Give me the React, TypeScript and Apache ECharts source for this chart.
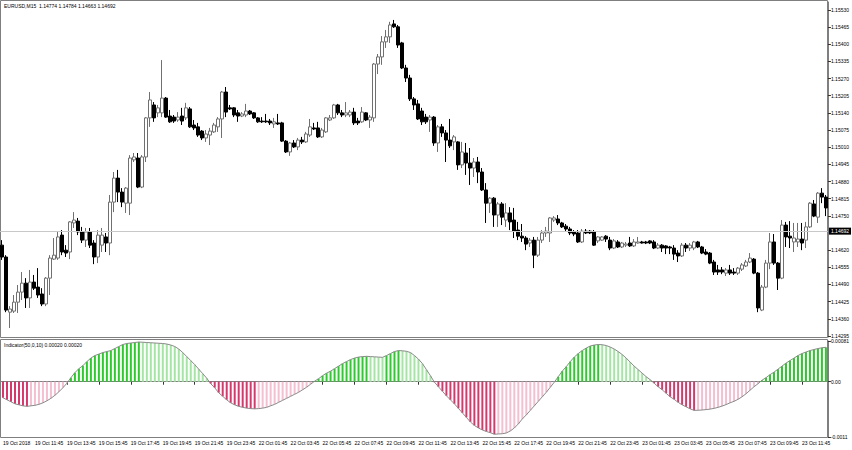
import React, { useEffect, useRef } from "react";
import * as echarts from "echarts";

const mainTitle = "EURUSD,M15  1.14774 1.14784 1.14663 1.14692";
const indicatorTitle = "Indicator(50,0,10) 0.00020 0.00020";
const currentPrice = 1.14692;

const tickLabels = [
  "19 Oct 2018", "19 Oct 11:45", "19 Oct 13:45", "19 Oct 15:45", "19 Oct 17:45", "19 Oct 19:45",
  "19 Oct 21:45", "19 Oct 23:45", "22 Oct 01:45", "22 Oct 03:45", "22 Oct 05:45", "22 Oct 07:45",
  "22 Oct 09:45", "22 Oct 11:45", "22 Oct 13:45", "22 Oct 15:45", "22 Oct 17:45", "22 Oct 19:45",
  "22 Oct 21:45", "22 Oct 23:45", "23 Oct 01:45", "23 Oct 03:45", "23 Oct 05:45", "23 Oct 07:45",
  "23 Oct 09:45", "23 Oct 11:45",
];

const priceTicks = [
  1.1553, 1.15465, 1.154, 1.15335, 1.1527, 1.15205, 1.1514, 1.15075, 1.1501, 1.14945,
  1.1488, 1.14815, 1.1475, 1.1462, 1.14555, 1.1449, 1.14425, 1.1436, 1.14295,
];

const indTickValues = [0.00081, 0, -0.0011];
const indTickLabels = ["0.00081", "0.00", "-0.0011"];

const openP = [
  1.14639, 1.14594, 1.14385, 1.14389, 1.14423, 1.14461, 1.14495, 1.14439, 1.14499, 1.1448,
  1.14454, 1.14416, 1.14514, 1.14586, 1.1459, 1.14677, 1.1462, 1.14613, 1.14723, 1.1473,
  1.14689, 1.14658, 1.14689, 1.14647, 1.14594, 1.14639, 1.1467, 1.14647, 1.14802, 1.14893,
  1.1484, 1.14798, 1.14798, 1.14962, 1.14969, 1.14859, 1.14973, 1.15121, 1.1517, 1.1514,
  1.1514, 1.15196, 1.15128, 1.15124, 1.15113, 1.15128, 1.15121, 1.15155, 1.15094, 1.15087,
  1.15071, 1.15045, 1.15056, 1.15068, 1.15087, 1.15117, 1.15219, 1.15159, 1.15159, 1.1514,
  1.15128, 1.15132, 1.15147, 1.1514, 1.15121, 1.15109, 1.15109, 1.15109, 1.15098, 1.15102,
  1.15102, 1.15033, 1.14992, 1.15026, 1.15011, 1.15037, 1.1503, 1.15056, 1.15083, 1.15083,
  1.15049, 1.15068, 1.15113, 1.15121, 1.1517, 1.1514, 1.15132, 1.15132, 1.15143, 1.15109,
  1.15106, 1.1514, 1.15113, 1.15121, 1.15325, 1.15352, 1.15409, 1.15428, 1.15477, 1.15466,
  1.15405, 1.1531, 1.15272, 1.15193, 1.15174, 1.15147, 1.15124, 1.15113, 1.15124, 1.15026,
  1.15087, 1.15064, 1.15037, 1.1503, 1.1503, 1.14943, 1.14988, 1.1495, 1.14931, 1.14954,
  1.14916, 1.14848, 1.14798, 1.14817, 1.14753, 1.14795, 1.14734, 1.14761, 1.14734, 1.14696,
  1.14673, 1.14666, 1.14647, 1.14658, 1.14601, 1.14658, 1.14685, 1.14685, 1.14734, 1.14738,
  1.14723, 1.14711, 1.147, 1.14689, 1.14685, 1.14651, 1.14692, 1.14692, 1.14689, 1.14655,
  1.14658, 1.14673, 1.14658, 1.14628, 1.14651, 1.14632, 1.14639, 1.14647, 1.14636, 1.14647,
  1.14651, 1.14651, 1.14655, 1.14651, 1.14628, 1.14639, 1.14636, 1.14632, 1.14628, 1.14609,
  1.14598, 1.14639, 1.14628, 1.14628, 1.14651, 1.14632, 1.14613, 1.14609, 1.14575, 1.14545,
  1.14545, 1.14533, 1.14545, 1.14537, 1.14533, 1.14548, 1.1456, 1.14575, 1.14586, 1.14533,
  1.14393, 1.1448, 1.14571, 1.14651, 1.14571, 1.14514, 1.14715, 1.14673, 1.14651, 1.14651,
  1.14662, 1.14658, 1.14708, 1.14795, 1.14745, 1.14836, 1.14821,
];

const closeP = [
  1.14594, 1.14393, 1.14397, 1.14423, 1.14461, 1.14495, 1.14439, 1.14499, 1.14476, 1.1445,
  1.14416, 1.14514, 1.1459, 1.14601, 1.1467, 1.14613, 1.14609, 1.14727, 1.14734, 1.14689,
  1.14658, 1.14689, 1.14639, 1.14594, 1.14677, 1.14677, 1.14647, 1.14802, 1.14893, 1.1484,
  1.14802, 1.14855, 1.14969, 1.14973, 1.14859, 1.14973, 1.15121, 1.15189, 1.15121, 1.15159,
  1.15196, 1.15124, 1.15106, 1.15109, 1.15124, 1.15109, 1.15159, 1.15087, 1.15083, 1.15056,
  1.15045, 1.1506, 1.15071, 1.15094, 1.15117, 1.15219, 1.15143, 1.15155, 1.15132, 1.15128,
  1.15136, 1.15147, 1.15136, 1.15121, 1.15106, 1.15106, 1.15106, 1.15102, 1.15106, 1.15098,
  1.15033, 1.14992, 1.15026, 1.15011, 1.15037, 1.1503, 1.1506, 1.15087, 1.15079, 1.15049,
  1.15075, 1.15121, 1.15121, 1.1517, 1.1514, 1.15132, 1.1514, 1.15143, 1.15102, 1.15102,
  1.15143, 1.15113, 1.15124, 1.15325, 1.15352, 1.15409, 1.15428, 1.15473, 1.15466, 1.15397,
  1.1531, 1.15272, 1.15193, 1.1517, 1.15117, 1.15106, 1.15106, 1.15124, 1.15026, 1.15087,
  1.15064, 1.15037, 1.15015, 1.15049, 1.14943, 1.14992, 1.1495, 1.14931, 1.14954, 1.14916,
  1.14848, 1.14798, 1.14817, 1.14753, 1.14795, 1.14745, 1.14761, 1.14727, 1.14692, 1.14673,
  1.14666, 1.14643, 1.14658, 1.14601, 1.14658, 1.14685, 1.14692, 1.14742, 1.14742, 1.14723,
  1.14708, 1.147, 1.14685, 1.14681, 1.14651, 1.14692, 1.14685, 1.14685, 1.14639, 1.1467,
  1.1467, 1.14662, 1.14628, 1.14655, 1.14632, 1.14647, 1.14643, 1.14636, 1.14651, 1.14651,
  1.14647, 1.14647, 1.14647, 1.14628, 1.14639, 1.14628, 1.14628, 1.14628, 1.14605, 1.14598,
  1.14639, 1.14628, 1.14639, 1.14651, 1.14632, 1.14609, 1.14605, 1.14571, 1.14537, 1.14537,
  1.14537, 1.14545, 1.14533, 1.14533, 1.14552, 1.14564, 1.14575, 1.1459, 1.14533, 1.14401,
  1.1448, 1.14571, 1.14651, 1.14571, 1.14514, 1.14715, 1.1467, 1.14666, 1.14666, 1.14662,
  1.14647, 1.14708, 1.14798, 1.14749, 1.14836, 1.14821, 1.1478,
];

const lowP = [
  1.14583, 1.14385, 1.14325, 1.14382, 1.14382, 1.14431, 1.14401, 1.14401, 1.14469, 1.14439,
  1.14408, 1.14408, 1.1445, 1.14583, 1.14583, 1.14601, 1.14594, 1.14586, 1.14704, 1.14677,
  1.14647, 1.14632, 1.14628, 1.14567, 1.14571, 1.14613, 1.14613, 1.14601, 1.14764, 1.14802,
  1.14783, 1.14761, 1.14753, 1.14954, 1.14855, 1.14855, 1.14954, 1.15087, 1.15106, 1.15124,
  1.15124, 1.15121, 1.15102, 1.15102, 1.15106, 1.15094, 1.15113, 1.15083, 1.15075, 1.15049,
  1.15037, 1.1503, 1.15018, 1.15064, 1.15068, 1.15045, 1.15124, 1.15151, 1.15124, 1.15106,
  1.15124, 1.15124, 1.15132, 1.15117, 1.15102, 1.15102, 1.15102, 1.15094, 1.15083, 1.15094,
  1.1503, 1.14988, 1.14977, 1.15007, 1.14999, 1.15022, 1.15026, 1.15049, 1.15075, 1.15045,
  1.15045, 1.15064, 1.15109, 1.15117, 1.15132, 1.15124, 1.15124, 1.15124, 1.15094, 1.15094,
  1.15102, 1.15109, 1.15083, 1.15106, 1.15287, 1.15322, 1.15386, 1.15405, 1.15462, 1.15386,
  1.15306, 1.15257, 1.15185, 1.15151, 1.15113, 1.15094, 1.15098, 1.15068, 1.15015, 1.14992,
  1.15049, 1.14954, 1.15007, 1.14999, 1.14924, 1.14931, 1.14905, 1.14867, 1.14897, 1.14874,
  1.14844, 1.14723, 1.14761, 1.14708, 1.14708, 1.14715, 1.14708, 1.14696, 1.14666, 1.14658,
  1.14651, 1.1462, 1.14632, 1.14552, 1.14594, 1.14647, 1.1467, 1.14651, 1.14727, 1.14715,
  1.14704, 1.14692, 1.14677, 1.14673, 1.14647, 1.14647, 1.14681, 1.14681, 1.14636, 1.14647,
  1.14655, 1.14651, 1.1462, 1.14624, 1.14628, 1.14628, 1.14632, 1.14632, 1.14632, 1.14645,
  1.14645, 1.14643, 1.14643, 1.14624, 1.14624, 1.14613, 1.14605, 1.14605, 1.14583, 1.14575,
  1.14594, 1.14613, 1.14617, 1.1462, 1.14628, 1.14605, 1.14601, 1.14567, 1.14526, 1.14526,
  1.14529, 1.14522, 1.14526, 1.14526, 1.14526, 1.14541, 1.14556, 1.14571, 1.14529, 1.14385,
  1.14389, 1.14476, 1.14548, 1.14564, 1.14469, 1.1451, 1.14632, 1.14628, 1.14613, 1.14632,
  1.1462, 1.14628, 1.14704, 1.14745, 1.14723, 1.14798, 1.14749,
];

const highP = [
  1.14658, 1.14601, 1.14408, 1.1445, 1.14488, 1.14537, 1.14514, 1.14545, 1.14526, 1.14552,
  1.14476, 1.14518, 1.14601, 1.14666, 1.14689, 1.14696, 1.14639, 1.1473, 1.14764, 1.14742,
  1.14708, 1.14704, 1.14704, 1.14658, 1.14696, 1.14704, 1.14685, 1.14829, 1.14916, 1.14924,
  1.14855, 1.14859, 1.1498, 1.14988, 1.14988, 1.1498, 1.15124, 1.15219, 1.15181, 1.1517,
  1.1534, 1.152, 1.15151, 1.15132, 1.15143, 1.15159, 1.15178, 1.15162, 1.15113, 1.15102,
  1.15075, 1.15075, 1.15083, 1.15102, 1.15124, 1.15223, 1.15238, 1.1517, 1.15162, 1.15151,
  1.15143, 1.15174, 1.15151, 1.15143, 1.15124, 1.15124, 1.15136, 1.15117, 1.15121, 1.15136,
  1.15106, 1.15037, 1.1503, 1.15037, 1.15045, 1.15049, 1.15068, 1.15117, 1.15102, 1.15106,
  1.15083, 1.15124, 1.15132, 1.15174, 1.15174, 1.15151, 1.15181, 1.15151, 1.15159, 1.15121,
  1.15162, 1.15143, 1.15132, 1.15329, 1.15363, 1.15431, 1.15454, 1.15485, 1.15492, 1.15473,
  1.15409, 1.15322, 1.15284, 1.152, 1.15189, 1.15159, 1.15136, 1.15132, 1.15128, 1.15094,
  1.15098, 1.15075, 1.15117, 1.15056, 1.15033, 1.1503, 1.15026, 1.15007, 1.14969, 1.14973,
  1.14931, 1.14874, 1.14821, 1.14821, 1.14802, 1.14802, 1.14798, 1.14783, 1.1478, 1.14727,
  1.14719, 1.14673, 1.14666, 1.1467, 1.1467, 1.14696, 1.14708, 1.14745, 1.14749, 1.14753,
  1.14727, 1.14719, 1.14708, 1.14696, 1.14696, 1.147, 1.147, 1.14696, 1.14696, 1.14673,
  1.14673, 1.14677, 1.1467, 1.14662, 1.14658, 1.14651, 1.14651, 1.1467, 1.14662, 1.1467,
  1.14655, 1.14655, 1.14658, 1.14658, 1.14647, 1.14643, 1.14639, 1.14636, 1.14639, 1.1462,
  1.14647, 1.14647, 1.14647, 1.14655, 1.14655, 1.14636, 1.14624, 1.14613, 1.14583, 1.14564,
  1.14556, 1.14552, 1.14564, 1.14552, 1.14556, 1.14571, 1.14583, 1.14609, 1.1459, 1.14537,
  1.14488, 1.14583, 1.14685, 1.14681, 1.14575, 1.14734, 1.14727, 1.1473, 1.14723, 1.14723,
  1.14723, 1.14727, 1.14802, 1.1481, 1.1484, 1.14855, 1.14829,
];

const indicatorValues = [
  -0.00032, -0.00036, -0.0004, -0.00044, -0.00046, -0.00048, -0.00049, -0.00048, -0.00047, -0.00045,
  -0.00042, -0.00038, -0.00033, -0.00027, -0.0002, -0.00012, -0.00003, 0.00008, 0.00018, 0.00026,
  0.00032, 0.0004, 0.00047, 0.00052, 0.00055, 0.00058, 0.0006, 0.00062, 0.00066, 0.0007,
  0.00074, 0.00076, 0.00077, 0.00078, 0.00079, 0.000785, 0.00078, 0.000775, 0.00077, 0.000765,
  0.00076, 0.00075, 0.00073, 0.0007, 0.00065, 0.00058, 0.0005, 0.00042, 0.00034, 0.00025,
  0.00016, 0.00007, -0.00004, -0.00012, -0.00022, -0.00029, -0.00036, -0.00042, -0.00046, -0.00049,
  -0.00051, -0.000525, -0.000535, -0.00054, -0.000535, -0.000525, -0.00051, -0.00048, -0.00045, -0.00041,
  -0.00037, -0.00033, -0.00029, -0.00025, -0.00021, -0.00016, -0.00011, -0.00005, 0.00001, 0.00006,
  0.00012, 0.00017, 0.00021, 0.00026, 0.00031, 0.00036, 0.0004, 0.00044, 0.00047, 0.00049,
  0.0005, 0.000505, 0.0005, 0.000495, 0.00049, 0.000485, 0.00052, 0.00056, 0.0006, 0.00062,
  0.000615, 0.000605, 0.00058, 0.00052, 0.00045, 0.00036, 0.00024, 0.00012, -0.00001, -0.0001,
  -0.00019, -0.00028, -0.00036, -0.00044, -0.00053, -0.00062, -0.00071, -0.0008, -0.00087, -0.00092,
  -0.00096, -0.00099, -0.001015, -0.001045, -0.00104, -0.001035, -0.00102, -0.00098, -0.00092, -0.00084,
  -0.00074, -0.00066, -0.00057, -0.00048, -0.00039, -0.0003, -0.00021, -0.00011, -0.00001, 0.0001,
  0.00021, 0.0003, 0.0004, 0.00049, 0.00056, 0.00062, 0.00067, 0.00071, 0.00073, 0.00074,
  0.000736, 0.00072, 0.00069, 0.00065, 0.0006, 0.00054, 0.00047, 0.00039, 0.00031, 0.00024,
  0.00017, 0.0001, 0.00004, -0.00003, -0.0001, -0.00016, -0.00023, -0.0003, -0.00035, -0.00041,
  -0.00046, -0.0005, -0.00054, -0.00057, -0.000568, -0.000563, -0.000555, -0.000545, -0.00053, -0.00051,
  -0.000485, -0.000455, -0.00042, -0.00039, -0.00035, -0.0003, -0.00024, -0.00017, -0.0001, -0.00004,
  0.00003, 0.00008, 0.00014, 0.00019, 0.00025, 0.00031, 0.00037, 0.00042, 0.00047, 0.00052,
  0.00056, 0.00059, 0.00062, 0.00064, 0.00066, 0.000675, 0.000685,
];

const FONT = "'Liberation Sans', Arial, sans-serif";
const DARK_GREEN = "#2ccb2c";
const LIGHT_GREEN = "#a3e6a3";
const DARK_PINK = "#d6386c";
const LIGHT_PINK = "#f4bfd0";

export default function App() {
  const ref = useRef<HTMLDivElement>(null);

  useEffect(() => {
    document.body.style.margin = "0";
    if (!ref.current) return;
    const chart = echarts.init(ref.current, undefined, { renderer: "svg" });

    const cats = openP.map((_, i) => String(i));
    const candles = openP.map((o, i) => [o, closeP[i], lowP[i], highP[i]]);
    const near = (a: number, b: number) => Math.abs(a - b) < 1e-9;

    const option: any = {
      animation: false,
      backgroundColor: "#ffffff",
      textStyle: { fontFamily: FONT },
      grid: [
        { left: 0, top: 2, width: 828, height: 335 },
        { left: 0, top: 341, width: 828, height: 96 },
      ],
      xAxis: [
        {
          type: "category",
          gridIndex: 0,
          data: cats,
          boundaryGap: true,
          axisLine: { show: false },
          axisTick: { show: false },
          axisLabel: { show: false },
          splitLine: { show: false },
        },
        {
          type: "category",
          gridIndex: 1,
          data: cats,
          boundaryGap: true,
          axisLine: { show: true, lineStyle: { color: "#7f7f7f", width: 1 } },
          axisTick: {
            show: true,
            alignWithLabel: true,
            interval: (i: number) => i % 8 === 0,
            length: 3,
            lineStyle: { color: "#333" },
          },
          axisLabel: {
            interval: (i: number) => i % 8 === 0,
            formatter: (_v: string, i: number) => tickLabels[i / 8] ?? "",
            align: "left",
            fontSize: 5,
            color: "#000",
            margin: 3,
            fontFamily: FONT,
          },
          splitLine: { show: false },
        },
      ],
      yAxis: [
        {
          type: "value",
          gridIndex: 0,
          position: "right",
          min: 1.14291,
          max: 1.1556,
          scale: true,
          axisLine: { show: true, lineStyle: { color: "#7f7f7f" } },
          axisTick: { show: true, customValues: priceTicks, length: 3, lineStyle: { color: "#333" } },
          axisLabel: {
            customValues: priceTicks,
            formatter: (v: number) => v.toFixed(5),
            fontSize: 5,
            color: "#000",
            margin: 3,
            fontFamily: FONT,
          },
          splitLine: { show: false },
        },
        {
          type: "value",
          gridIndex: 1,
          position: "right",
          min: -0.0011,
          max: 0.00081,
          axisLine: { show: true, lineStyle: { color: "#7f7f7f" } },
          axisTick: { show: true, customValues: indTickValues, length: 3, lineStyle: { color: "#333" } },
          axisLabel: {
            customValues: indTickValues,
            formatter: (v: number) => {
              const k = indTickValues.findIndex((t) => near(t, v));
              return k >= 0 ? indTickLabels[k] : "";
            },
            fontSize: 5,
            color: "#000",
            margin: 3,
            fontFamily: FONT,
          },
          splitLine: { show: false },
        },
      ],
      series: [
        {
          type: "candlestick",
          xAxisIndex: 0,
          yAxisIndex: 0,
          data: candles,
          barWidth: 3,
          z: 3,
          itemStyle: {
            color: "#ffffff",
            color0: "#000000",
            borderColor: "#707070",
            borderColor0: "#000000",
            borderWidth: 1,
          },
          markLine: {
            silent: true,
            precision: 5,
            symbol: ["none", "none"],
            data: [{ yAxis: currentPrice }],
            lineStyle: { color: "#c8c8c8", width: 1, type: "solid", opacity: 1 },
            label: {
              show: true,
              position: "end",
              formatter: currentPrice.toFixed(5),
              backgroundColor: "#000",
              color: "#fff",
              fontSize: 5,
              padding: [1, 2],
              distance: 1,
              fontFamily: FONT,
            },
          },
        },
        {
          type: "bar",
          xAxisIndex: 1,
          yAxisIndex: 1,
          data: indicatorValues,
          barWidth: 2,
          itemStyle: {
            color: (p: any) => {
              const i = p.dataIndex;
              const v = indicatorValues[i];
              const prev = i > 0 ? indicatorValues[i - 1] : v;
              if (v >= 0) return v > prev ? DARK_GREEN : LIGHT_GREEN;
              return v < prev || i === 0 ? DARK_PINK : LIGHT_PINK;
            },
          },
        },
        {
          type: "line",
          xAxisIndex: 1,
          yAxisIndex: 1,
          data: indicatorValues,
          symbol: "none",
          lineStyle: { color: "#8a8a8a", width: 1 },
          z: 5,
        },
      ],
      graphic: [
        {
          type: "rect",
          shape: { x: 0.5, y: 0.5, width: 827, height: 337 },
          style: { fill: "none", stroke: "#7f7f7f", lineWidth: 1 },
          silent: true,
        },
        {
          type: "rect",
          shape: { x: 0.5, y: 339.5, width: 827, height: 98 },
          style: { fill: "none", stroke: "#7f7f7f", lineWidth: 1 },
          silent: true,
        },
        {
          type: "text",
          x: 4,
          y: 3,
          style: { text: mainTitle, fontSize: 5, fill: "#000", fontFamily: FONT },
          silent: true,
        },
        {
          type: "text",
          x: 4,
          y: 342,
          style: { text: indicatorTitle, fontSize: 5, fill: "#000", fontFamily: FONT },
          silent: true,
        },
      ],
    };

    chart.setOption(option);
    return () => chart.dispose();
  }, []);

  return <div ref={ref} style={{ width: 852, height: 450 }} />;
}
